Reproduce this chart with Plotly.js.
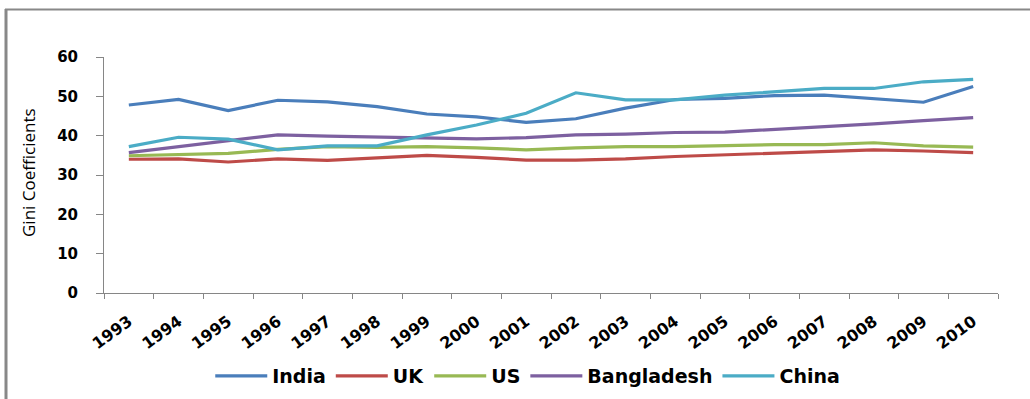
<!DOCTYPE html>
<html>
<head>
<meta charset="utf-8">
<script src="https://cdn.plot.ly/plotly-3.0.1.min.js"></script>
<style>
  html, body { margin: 0; padding: 0; background: #ffffff; }
  #chart { width: 1030px; height: 399px; }
</style>
</head>
<body>
<div id="chart"></div>
<script>
const years = ["1993","1994","1995","1996","1997","1998","1999","2000","2001","2002","2003","2004","2005","2006","2007","2008","2009","2010"];
const india      = [47.8, 49.2, 46.4, 49.0, 48.6, 47.4, 45.5, 44.8, 43.4, 44.3, 47.0, 49.2, 49.5, 50.2, 50.3, 49.3, 48.5, 52.5];
const uk         = [34.0, 34.1, 33.3, 34.1, 33.7, 34.4, 35.0, 34.5, 33.8, 33.8, 34.1, 34.7, 35.1, 35.7, 36.1, 36.4, 36.1, 35.7];
const us         = [34.9, 35.3, 35.5, 36.5, 37.2, 37.0, 37.2, 36.9, 36.4, 36.9, 37.2, 37.2, 37.5, 37.7, 37.7, 38.2, 37.4, 37.1];
const bangladesh = [35.7, 37.2, 38.7, 40.2, 39.9, 39.6, 39.5, 39.2, 39.5, 40.2, 40.4, 40.8, 40.9, 41.6, 42.1, 43.0, 43.8, 44.6];
const china      = [37.2, 39.6, 39.1, 36.4, 37.4, 37.4, 40.2, 42.7, 45.7, 50.9, 49.1, 49.1, 50.3, 51.2, 52.0, 52.0, 53.7, 54.3];

const seriesNames = ["India", "UK", "US", "Bangladesh", "China"];
const seriesData = [india, uk, us, bangladesh, china];
const colors = ["#4A7EBB", "#BE4B48", "#98B954", "#7D60A0", "#4BACC6"];

const traces = seriesNames.map((name, i) => ({
  type: "scatter",
  mode: "lines",
  name: name,
  legendgroup: name,
  x: years,
  y: seriesData[i],
  line: { color: colors[i], width: 3.2 },
  hoverinfo: "skip"
}));

const axisGray = "#868686";
const boldFont = "DejaVu Sans, Verdana, sans-serif";

const layout = {
  width: 1030,
  height: 399,
  margin: { l: 104, r: 32, t: 57, b: 106, autoexpand: false },
  paper_bgcolor: "#ffffff",
  plot_bgcolor: "#ffffff",
  showlegend: true,
  xaxis: {
    type: "category",
    automargin: false,
    range: [-0.5, 17.5],
    tickson: "boundaries",
    ticks: "outside",
    ticklen: 5,
    tickcolor: axisGray,
    tickwidth: 1,
    showline: true,
    linecolor: axisGray,
    linewidth: 1,
    showgrid: false,
    zeroline: false,
    tickangle: -36,
    ticklabelstandoff: 12,
    tickfont: { family: boldFont, size: 16, color: "#000000", weight: "bold" },
    fixedrange: true
  },
  yaxis: {
    automargin: false,
    range: [0, 60],
    dtick: 10,
    ticks: "outside",
    ticklen: 7,
    tickcolor: axisGray,
    tickwidth: 1,
    showline: true,
    linecolor: axisGray,
    linewidth: 1,
    showgrid: false,
    zeroline: false,
    ticklabelstandoff: 15,
    tickfont: { family: boldFont, size: 15, color: "#000000", weight: "bold" },
    fixedrange: true
  },
  legend: {
    orientation: "h",
    x: 0.474,
    xanchor: "center",
    y: (293 - 376) / 236,
    yanchor: "middle",
    font: { family: boldFont, size: 19, color: "#000000", weight: "bold" },
    itemwidth: 52,
    tracegroupgap: 20,
    bgcolor: "rgba(0,0,0,0)"
  },
  annotations: [{
    text: "Gini Coefficients",
    xref: "paper", yref: "paper",
    x: (28 - 104) / 894, y: (293 - 173) / 236,
    xanchor: "center", yanchor: "middle",
    textangle: -90,
    showarrow: false,
    font: { family: "Liberation Sans Narrow, Open Sans, sans-serif", size: 17, color: "#000000" }
  }],
  shapes: [
    { type: "line", xref: "paper", yref: "paper",
      x0: (6 - 104) / 894, x1: (6 - 104) / 894,
      y0: (293 - 9) / 236, y1: (293 - 410) / 236,
      line: { color: "#888888", width: 3 } },
    { type: "line", xref: "paper", yref: "paper",
      x0: (5 - 104) / 894, x1: (1040 - 104) / 894,
      y0: (293 - 9.5) / 236, y1: (293 - 9.5) / 236,
      line: { color: "#888888", width: 2 } }
  ]
};

Plotly.newPlot("chart", traces, layout, { displayModeBar: false, staticPlot: true });
</script>
</body>
</html>
